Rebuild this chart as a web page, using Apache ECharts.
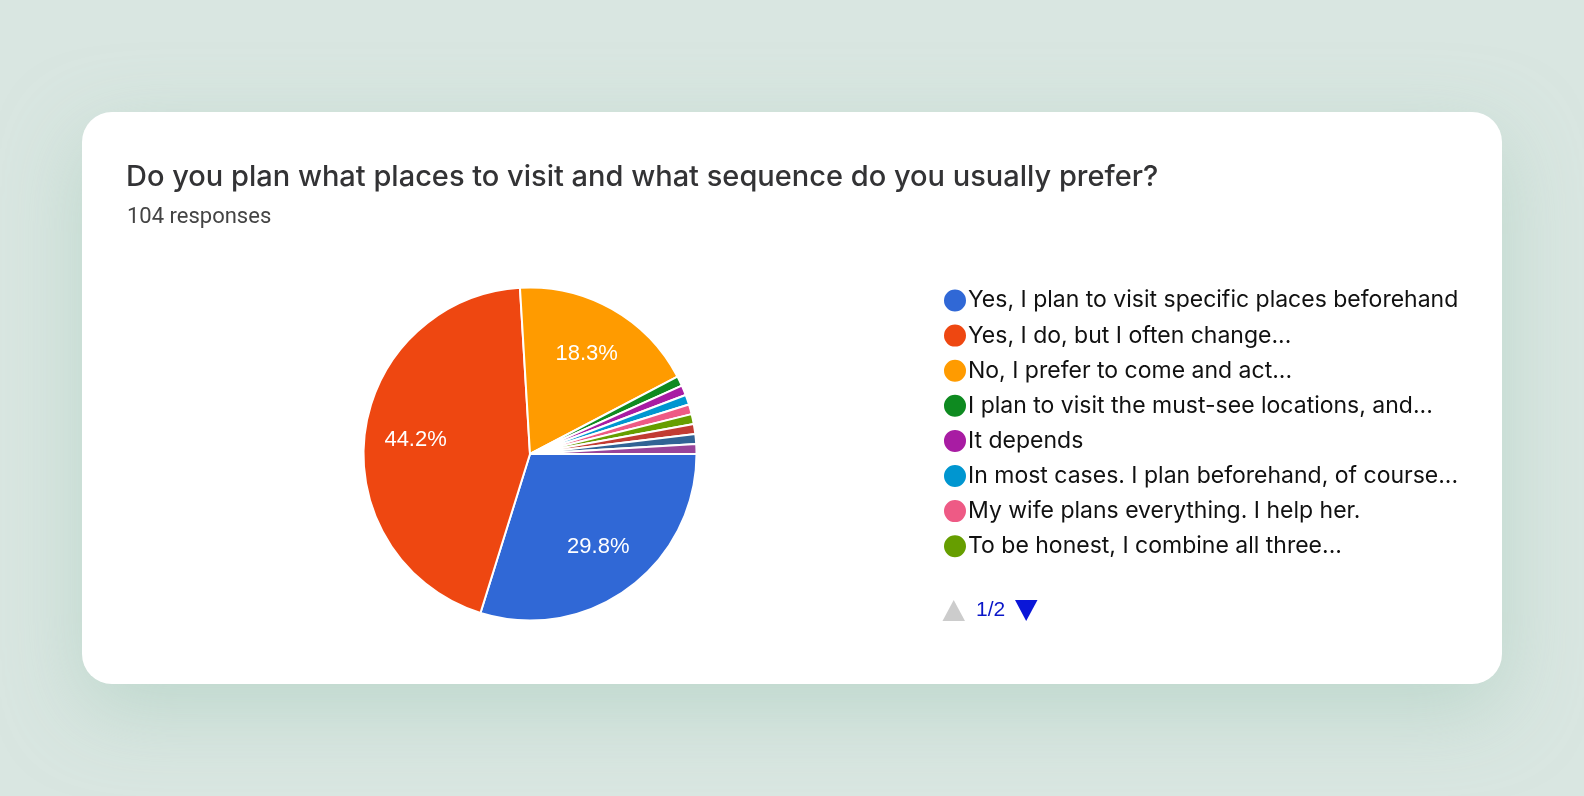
<!DOCTYPE html>
<html>
<head>
<meta charset="utf-8">
<title>Trip planning survey</title>
<script src="https://cdn.jsdelivr.net/npm/echarts@6/dist/echarts.min.js"></script>
<style>
html,body{margin:0;padding:0;background:#d9e6e1;}
#main{width:1584px;height:796px;}
</style>
</head>
<body>
<div id="main"></div>
<script>
var titleText = 'Do you plan what places to visit and what sequence do you usually prefer?';
var subText = '104 responses';
var pageText = '1/2';
// the last three names sit on legend page 2, which the picture does not show
var answers = [
    'Yes, I plan to visit specific places beforehand',
    'Yes, I do, but I often change...',
    'No, I prefer to come and act...',
    'I plan to visit the must-see locations, and...',
    'It depends',
    'In most cases. I plan beforehand, of course...',
    'My wife plans everything. I help her.',
    'To be honest, I combine all three...',
    'Other answer 1',
    'Other answer 2',
    'Other answer 3'
];
var counts = [31, 46, 19, 1, 1, 1, 1, 1, 1, 1, 1];
var colors = ['#3068d6', '#ee4711', '#ff9b00', '#0e8a20', '#a81ca3', '#0096d0', '#ee5a85', '#669e00', '#c23b33', '#316395', '#994499'];

var slices = [];
for (var i = 0; i < answers.length; i++) {
    slices.push({name: answers[i], value: counts[i]});
}

var myChart = echarts.init(document.getElementById('main'));
myChart.setOption({
    animation: false,
    backgroundColor: '#d9e6e1',
    color: colors,
    graphic: [{
        type: 'rect',
        z: -10,
        shape: {x: 82, y: 112, width: 1420, height: 572, r: 30},
        style: {
            fill: '#ffffff',
            shadowBlur: 80,
            shadowOffsetY: 25,
            shadowColor: 'rgba(170,205,190,0.6)'
        }
    }, {
        // pager under the legend: ECharts centres its own one, here it sits left
        type: 'polygon',
        shape: {points: [[942.5, 621], [965, 621], [953.7, 600]]},
        style: {fill: '#cccccc'}
    }, {
        type: 'text',
        x: 976,
        y: 610,
        style: {text: pageText, fill: '#0a16c8', font: '21px "Liberation Sans"', verticalAlign: 'middle'}
    }, {
        type: 'polygon',
        shape: {points: [[1015, 600], [1037.5, 600], [1026.2, 621]]},
        style: {fill: '#0a16d8'}
    }],
    title: [{
        text: titleText,
        left: 121,
        top: 158,
        textStyle: {fontFamily: 'Inter', fontSize: 29, fontWeight: 500, color: '#333335'}
    }, {
        text: subText,
        left: 122,
        top: 201,
        textStyle: {fontFamily: 'Roboto', fontSize: 22, fontWeight: 400, color: '#444444'}
    }],
    legend: {
        orient: 'vertical',
        left: 937,
        top: 282.5,
        icon: 'circle',
        itemWidth: 24,
        itemHeight: 24,
        itemGap: 9.1,
        selectedMode: false,
        data: answers.slice(0, 8),
        textStyle: {fontFamily: 'Inter', fontSize: 23, lineHeight: 23, color: '#111111', padding: [0, 0, 0, -4]}
    },
    series: [{
        type: 'pie',
        center: [530, 454],
        radius: [0, 166.5],
        startAngle: 0,
        clockwise: true,
        avoidLabelOverlap: false,
        data: slices,
        label: {show: false},
        labelLine: {show: false},
        itemStyle: {borderColor: '#ffffff', borderWidth: 2},
        emphasis: {disabled: true}
    }, {
        // invisible ring, only there to put the percent labels further out
        type: 'pie',
        center: [530, 454],
        radius: [58, 166.5],
        startAngle: 0,
        clockwise: true,
        silent: true,
        avoidLabelOverlap: false,
        percentPrecision: 1,
        data: slices,
        itemStyle: {color: 'transparent'},
        labelLine: {show: false},
        label: {
            show: true,
            position: 'inside',
            fontFamily: 'Liberation Sans',
            fontSize: 22,
            color: '#ffffff',
            formatter: function (p) {
                return p.percent > 5 ? p.percent.toFixed(1) + '%' : '';
            }
        },
        emphasis: {disabled: true}
    }]
});
</script>
</body>
</html>
